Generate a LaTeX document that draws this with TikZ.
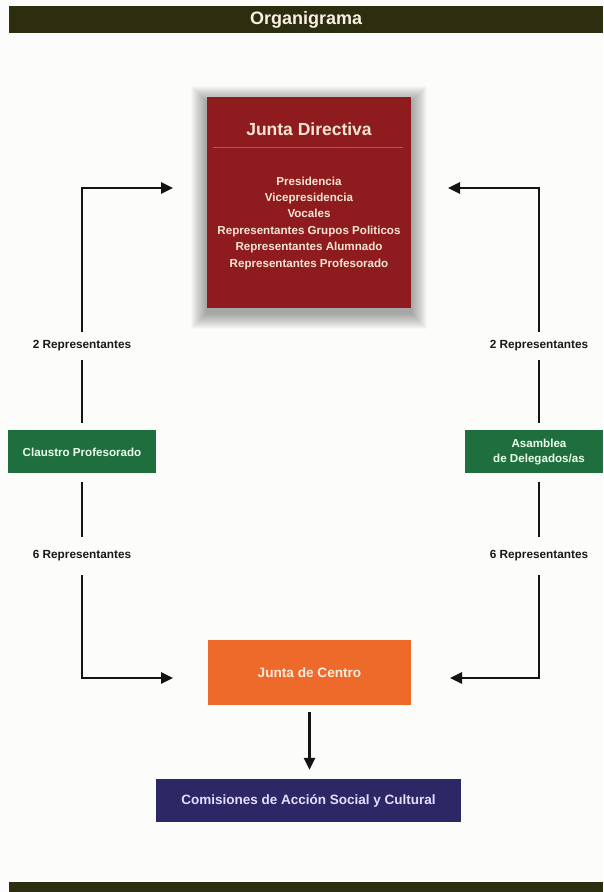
\documentclass[tikz,border=0pt]{standalone}
\usepackage{fontspec}
\setmainfont{Liberation Sans}
\usetikzlibrary{arrows.meta}
\pgfdeclarelayer{back}
\pgfsetlayers{back,main}
\definecolor{headcol}{RGB}{45,45,15}
\definecolor{jdred}{RGB}{142,27,29}
\definecolor{sepred}{RGB}{185,85,75}
\definecolor{cream}{RGB}{245,230,212}
\definecolor{boxgreen}{RGB}{31,110,62}
\definecolor{jcorange}{RGB}{238,106,42}
\definecolor{navy}{RGB}{44,40,102}
\definecolor{lbltext}{RGB}{25,25,25}
\definecolor{bg}{RGB}{252,252,250}
\begin{document}
\begin{tikzpicture}[x=1pt,y=-1pt,
  bar/.style={fill=headcol, inner sep=0pt, anchor=north west},
  conn/.style={line width=2.6pt, draw=black!92},
  arr/.style={conn, -{Triangle[length=12pt,width=11pt]}},
  lbl/.style={font=\bfseries\fontsize{11.8}{13}\selectfont, text=lbltext, inner sep=0pt},
  boxtxt/.style={font=\bfseries\fontsize{11.6}{15}\selectfont, text=cream, align=center},
  sidebox/.style={fill=boxgreen, minimum width=148pt, minimum height=43pt, inner sep=0pt},
  shadowstep/.style={fill=black, opacity=0.022}
]
\begin{pgfonlayer}{back}
\fill[bg] (0,0) rectangle (603,892);
\end{pgfonlayer}
\useasboundingbox (0,0) rectangle (603,892);

% header and footer
\node[bar, minimum width=594pt, minimum height=27pt, text=cream!60!white,
      font=\bfseries\fontsize{18}{20}\selectfont] (header) at (9,6) {Organigrama};
\node[bar, minimum width=594pt, minimum height=10pt] (footer) at (9,882) {};

% Junta Directiva
\node[fill=jdred, minimum width=204pt, minimum height=211pt, inner sep=0pt] (jd) at (309,202.5) {};
\begin{pgfonlayer}{back}
\foreach \i in {1,...,16}
  \fill[shadowstep] ([shift={(-\i,-\i+5)}]jd.north west) rectangle ([shift={(\i,\i+5)}]jd.south east);
\end{pgfonlayer}
\node[font=\bfseries\fontsize{17.5}{20}\selectfont, text=cream] (jdtitle) at (309,129) {Junta Directiva};
\draw[sepred, line width=0.6pt] ([xshift=6pt]jd.west |- 0,147) coordinate (sepL) -- ([xshift=-8pt]jd.east |- 0,147) coordinate (sepR);
\node[boxtxt, font=\bfseries\fontsize{11.6}{16.4}\selectfont] (jdlist) at (309,223) {Presidencia\\Vicepresidencia\\Vocales\\Representantes Grupos Politicos\\Representantes Alumnado\\Representantes Profesorado};

% side boxes
\node[sidebox] (claustro) at (82,451.5) {};
\node[boxtxt, text=white!92!green] (claustrotxt) at (82,452) {Claustro Profesorado};
\node[sidebox, minimum width=138pt, anchor=west] (asam) at (465,451.5) {};
\node[boxtxt, text=white!92!green, font=\bfseries\fontsize{11.6}{15}\selectfont] (asamtxt) at (539,452) {Asamblea\\de Delegados/as};

% Junta de Centro and Comisiones
\node[fill=jcorange, minimum width=203pt, minimum height=65pt, inner sep=0pt,
      text=cream!70!white, font=\bfseries\fontsize{13.6}{16}\selectfont] (jc) at (309.5,672.5) {Junta de Centro};
\node[fill=navy, minimum width=305pt, minimum height=43pt, inner sep=0pt,
      text=white!88!blue, font=\bfseries\fontsize{13.5}{16}\selectfont] (comi) at (308.5,800.5) {Comisiones de Acción Social y Cultural};

% labels
\node[lbl, minimum height=28pt] (l2L) at (82,346) {2 Representantes};
\node[lbl, minimum height=38pt] (l6L) at (82,556) {6 Representantes};
\node[lbl, minimum height=28pt] (l2R) at (539,346) {2 Representantes};
\node[lbl, minimum height=38pt] (l6R) at (539,556) {6 Representantes};

\coordinate (jdinL) at (173,188);
\coordinate (jdinR) at (448,188);
\coordinate (jcinL) at (173,678);
\coordinate (jcinR) at (450,678);

% connectors left
\draw[arr] (l2L.north) |- (jdinL);
\draw[conn, shorten >=7pt] (l2L.south) -- (claustro.north);
\draw[conn, shorten <=9pt] (claustro.south) -- (l6L.north);
\draw[arr] (l6L.south) |- (jcinL);
% connectors right
\draw[arr] (l2R.north) |- (jdinR);
\draw[conn, shorten >=7pt] (l2R.south) -- (asam.north -| l2R.south);
\draw[conn, shorten <=9pt] (asam.south -| l6R.north) -- (l6R.north);
\draw[arr] (l6R.south) |- (jcinR);
% down arrow
\draw[arr, shorten <=7pt, shorten >=9pt] (jc.south) -- (comi.north -| jc.south);
\end{tikzpicture}
\end{document}
